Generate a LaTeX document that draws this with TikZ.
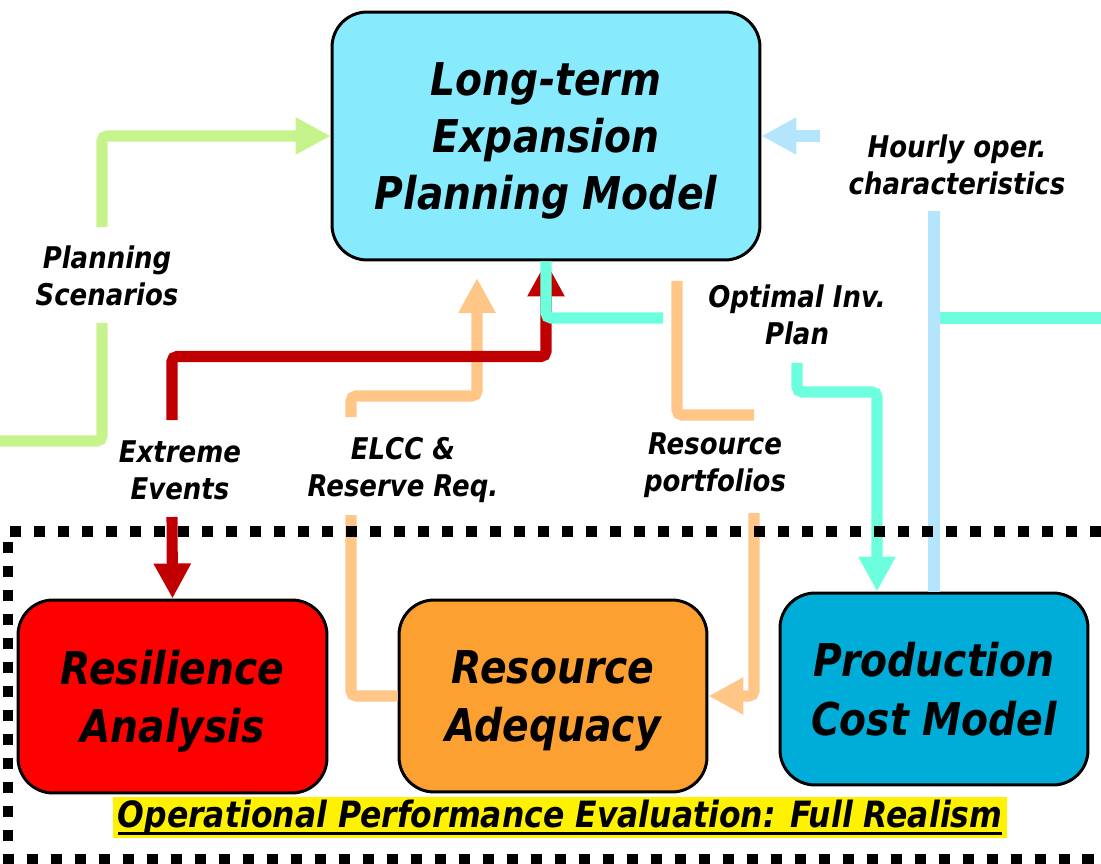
\documentclass[tikz,border=0pt]{standalone}
\usepackage{fontspec}
\setmainfont[FakeStretch=0.87]{DejaVu Sans}
\usetikzlibrary{arrows.meta}
\definecolor{ltcyan}{RGB}{135,235,253}
\definecolor{adq}{RGB}{253,160,50}
\definecolor{pcmblue}{RGB}{0,172,216}
\definecolor{cgreen}{RGB}{198,243,139}
\definecolor{dred}{RGB}{192,0,0}
\definecolor{cyanl}{RGB}{108,255,222}
\definecolor{lblue}{RGB}{180,229,252}
\definecolor{lorange}{RGB}{255,198,135}
\newcommand\bxfont{\fontsize{25.7}{32.6}\selectfont\bfseries\itshape}
\newcommand\bxfontb{\fontsize{25.7}{33.4}\selectfont\bfseries\itshape}
\newcommand\lbfont{\fontsize{17}{21}\selectfont\bfseries\itshape}
\newcommand\ylfont{\fontsize{20.6}{24}\selectfont\bfseries\itshape}
\newcommand\myul[1]{\setbox0=\hbox{#1}\rlap{\rule[-4pt]{\wd0}{1.6pt}}\box0}
\begin{document}
\begin{tikzpicture}[x=0.02cm,y=-0.02cm,
  box/.style={draw=black, line width=1.7pt, rounded corners=0.7cm, align=center, font=\bxfontb, inner sep=0pt, text depth=0pt},
  lbl/.style={align=center, font=\lbfont, inner sep=0pt},
  conn/.style={line width=6.3pt, rounded corners=0.1cm},
  tipped/.style={-{Triangle[width=0.7cm,length=0.7cm]}},
  dotbox/.style={line width=0.22cm, dash pattern=on 0.23cm off 0.25cm}]
\useasboundingbox (0,0) rectangle (1101,864);
% main boxes
\node[box, font=\bxfont, fill=ltcyan, minimum width=8.56cm, minimum height=4.96cm] (lt) at (546,136) {Long-term\\Expansion\\Planning Model};
\node[box, fill=red, minimum width=6.18cm, minimum height=3.86cm] (ra) at (172.5,696.5) {Resilience\\Analysis};
\node[box, fill=adq, minimum width=6.16cm, minimum height=3.84cm] (rad) at (553,696) {Resource\\Adequacy};
\node[box, fill=pcmblue, minimum width=6.16cm, minimum height=3.84cm] (pcm) at (934,689) {Production\\Cost Model};
% labels
\node[lbl] (ps) at (107,276) {Planning\\Scenarios};
\node[lbl] (ee) at (180,470) {Extreme\\Events};
\node[lbl] (elcc) at (403,470) {ELCC \&\\Reserve Req.};
\node[lbl] (rp) at (715,465) {Resource\\portfolios};
\node[lbl] (oip) at (797,315) {Optimal Inv.\\Plan};
\node[lbl] (hoc) at (957,165) {Hourly oper.\\characteristics};
% coordinates for connector ends
\coordinate (g0) at (0,441);
\coordinate (g1) at (102,323);
\coordinate (g2) at (102,227);
\coordinate (r1) at (172,420);
\coordinate (r2) at (172,517);
\coordinate (cy1) at (663,318);
\coordinate (cy2) at (934,318);
\coordinate (cy3) at (1101,318);
\coordinate (cy4) at (797,363);
\coordinate (cy5) at (877,392);
\coordinate (lb1) at (934,211);
\coordinate (lb2) at (820,136);
\coordinate (o1) at (351,515);
\coordinate (o2) at (351,417);
\coordinate (o3) at (477,278);
\coordinate (p1) at (677,281);
\coordinate (p2) at (754,415);
\coordinate (p3) at (754,513);
% green
\draw[conn, cgreen] (g0) -| (g1);
\draw[conn, cgreen, tipped] (g2) |- (lt.west);
% orange
\draw[conn, lorange] (rad.west) -| (o1);
\draw[conn, lorange, tipped] (o2) |- (477,396) -- (o3);
\draw[conn, lorange] (p1) |- (p2);
\draw[conn, lorange, tipped] (p3) |- (rad.east);
% red
\draw[conn, dred, tipped] (r1) |- (546,356.5) -- (lt.south);
\draw[conn, dred, tipped] (r2) -- (ra.north);
% cyan
\draw[conn, cyanl] (lt.south) |- (cy1);
\draw[conn, cyanl] (cy2) -- (cy3);
\draw[conn, cyanl, tipped] (cy4) |- (cy5) -- (cy5 |- pcm.north);
% light blue
\draw[conn, lblue] (pcm.north) -- (lb1);
\draw[conn, lblue, tipped] (lb2) -- (lt.east);
% dotted frame
\draw[dotbox] (1101,531) -- (8,531) -- (8,859) -- (1101,859);
% bottom caption
\node[fill=yellow, minimum width=17.88cm, minimum height=0.82cm, inner sep=0pt, font=\ylfont] (ope) at (560,817.5) {\myul{Operational Performance Evaluation: Full Realism}};
\end{tikzpicture}
\end{document}
